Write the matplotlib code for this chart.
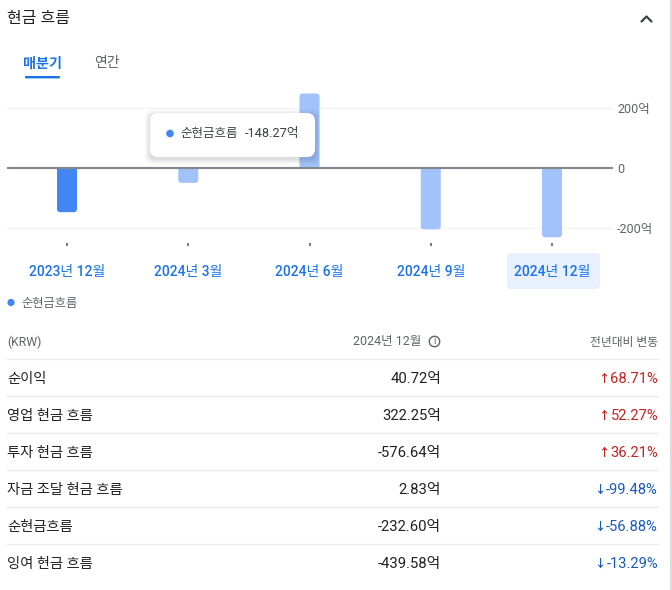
import matplotlib
matplotlib.use("Agg")
import matplotlib.pyplot as plt
from matplotlib.patches import FancyBboxPatch, Rectangle, Circle

FONT = ['Roboto', 'Noto Sans CJK KR', 'DejaVu Sans']
plt.rcParams['font.family'] = FONT

# ---- data ----
periods = ['2023년 12월', '2024년 3월', '2024년 6월', '2024년 9월', '2024년 12월']
net_cash = [-148.27, -50, 250, -206, -232.60]
y_ticks = [-200, 0, 200]
y_labels = ['-200억', '0', '200억']
row_names = ['순이익', '영업 현금 흐름', '투자 현금 흐름', '자금 조달 현금 흐름', '순현금흐름', '잉여 현금 흐름']
row_values = ['40.72억', '322.25억', '-576.64억', '2.83억', '-232.60억', '-439.58억']
row_changes = ['68.71%', '52.27%', '36.21%', '-99.48%', '-56.88%', '-13.29%']
row_arrows = ['↑', '↑', '↑', '↓', '↓', '↓']

W, H = 672, 590
DARK, GREY = '#202124', '#5f6368'
BLUE, LIGHT, LINK = '#4285f4', '#a1c2fa', '#1a73e8'
RED, DOWN = '#c5221f', '#185abc'

fig = plt.figure(figsize=(W / 100, H / 100), dpi=100, facecolor='white')


def px_axes(z):
    a = fig.add_axes([0, 0, 1, 1], zorder=z)
    a.set_xlim(0, W)
    a.set_ylim(H, 0)
    a.axis('off')
    a.patch.set_alpha(0)
    return a


bg = px_axes(0)
top = px_axes(3)

# ---- chart axes ----
x_px0, x_step = 67, 121.25
left, right, ax_top, ax_bot = 7, 613, 88, 246
px_per_unit = 59.6 / 200
ax = fig.add_axes([left / W, 1 - ax_bot / H, (right - left) / W, (ax_bot - ax_top) / H], zorder=1)
ax.patch.set_alpha(0)
ax.set_xlim((left - x_px0) / x_step, (right - x_px0) / x_step)
ax.set_ylim((168 - ax_bot) / px_per_unit, (168 - ax_top) / px_per_unit)
for s in ax.spines.values():
    s.set_visible(False)

for v in y_ticks:
    if v == 0:
        ax.axhline(v, color='#80868b', lw=1.5, zorder=4)
    else:
        ax.axhline(v, color='#f1f3f4', lw=1, zorder=1)

bar_w = 20 / x_step
r_x = 3 / x_step
r_y = 3 / px_per_unit
for i, v in enumerate(net_cash):
    colour = BLUE if i == 0 else LIGHT
    y0 = min(v, -r_y * 2) if v < 0 else -r_y * 2
    y1 = r_y * 2 if v < 0 else v
    box = FancyBboxPatch((i - bar_w / 2, y0), bar_w, y1 - y0,
                         boxstyle=f'round,pad=0,rounding_size={r_x}',
                         mutation_aspect=r_y / r_x, fc=colour, ec='none', zorder=3)
    ax.add_patch(box)
    # the end at the zero line is square: keep only the part beyond zero
    clip = Rectangle((i - 1, -1000 if v < 0 else 0), 2, 1000, transform=ax.transData)
    box.set_clip_path(clip)

ax.set_xticks(range(len(periods)), periods)
ax.tick_params(axis='x', direction='in', length=2.4, width=1.2, color=GREY, pad=13.6,
               labelcolor=LINK, labelsize=10)
for t in ax.get_xticklabels():
    t.set_fontweight('medium')
ax.yaxis.tick_right()
ax.set_yticks(y_ticks, y_labels)
ax.tick_params(axis='y', length=0, pad=3, labelcolor=GREY, labelsize=9)

# ---- selected period highlight ----
bg.add_patch(FancyBboxPatch((507, 253), 93, 36, boxstyle='round,pad=0,rounding_size=4',
                            fc='#e8f0fe', ec='none'))
# right page edge
bg.add_patch(Rectangle((670, 0), 2, H, fc='#dadce0', ec='none'))

# ---- header ----
bg.text(7, 18.5, '현금 흐름', fontsize=11.5, color=DARK, va='center', ha='left')
bg.plot([641.5, 646.5, 651.5], [21.5, 16.5, 21.5], color='#3c4043', lw=1.6, solid_capstyle='round')
bg.text(42, 63.5, '매분기', fontsize=10.2, color=LINK, va='center', ha='center', fontweight='bold')
bg.text(107, 63.5, '연간', fontsize=10, color=GREY, va='center', ha='center')
bg.add_patch(FancyBboxPatch((25, 76), 35, 2.4, boxstyle='round,pad=0,rounding_size=1',
                            fc=LINK, ec='none'))

# ---- legend ----
bg.add_patch(Circle((11, 302.5), 3.6, fc=BLUE, ec='none'))
bg.text(21, 303, '순현금흐름', fontsize=8.8, color=GREY, va='center', ha='left')

# ---- tooltip ----
for off, a in [(6, .012), (5, .015), (4, .018), (3, .022), (2, .026), (1, .03)]:
    top.add_patch(FancyBboxPatch((150 - off, 113 - off + 2), 165 + 2 * off, 44 + 2 * off,
                                 boxstyle='round,pad=0,rounding_size=8', fc='black', ec='none', alpha=a))
top.add_patch(FancyBboxPatch((150, 113), 165, 44, boxstyle='round,pad=0,rounding_size=8',
                             fc='white', ec='none'))
top.add_patch(Circle((170, 133.5), 3.8, fc=BLUE, ec='none'))
top.text(180, 134, '순현금흐름', fontsize=9, color='#3c4043', va='center', ha='left')
top.text(299, 134, f'{net_cash[0]:.2f}억', fontsize=9.2, color='#3c4043', va='center', ha='right')

# ---- table ----
bg.text(7, 342, '(KRW)', fontsize=8.8, color=GREY, va='center', ha='left')
bg.text(421, 342, periods[-1], fontsize=9, color=GREY, va='center', ha='right')
bg.add_patch(Circle((434.5, 341.5), 5.2, fc='none', ec=GREY, lw=1))
bg.text(434.5, 341.5, 'i', fontsize=7, color=GREY, va='center', ha='center')
bg.text(658, 342.5, '전년대비 변동', fontsize=8.5, color=GREY, va='center', ha='right')

renderer = fig.canvas.get_renderer()
for i, (name, val, chg, arrow) in enumerate(zip(row_names, row_values, row_changes, row_arrows)):
    y = 378 + 37 * i
    bg.plot([7, 658], [y - 18.8, y - 18.8], color='#e8eaed', lw=1)
    bg.text(7, y + 1, name, fontsize=10.3, color=DARK, va='center', ha='left')
    bg.text(441, y + 1, val, fontsize=10.7, color=DARK, va='center', ha='right')
    colour = RED if arrow == '↑' else DOWN
    t = bg.text(658, y + 1, chg, fontsize=10.6, color=colour, va='center', ha='right')
    width = t.get_window_extent(renderer).width
    bg.text(658 - width - 1.5, y + 0.5, arrow, fontsize=8, color=colour, va='center', ha='right',
            fontweight='bold')

fig.savefig('out.png', dpi=100)
